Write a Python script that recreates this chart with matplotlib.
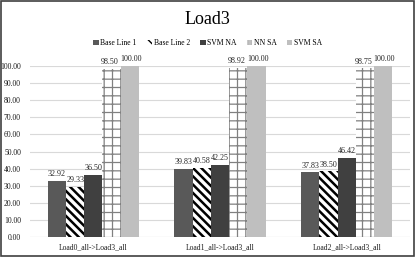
import matplotlib
matplotlib.use("Agg")
import matplotlib.pyplot as plt
import numpy as np
from matplotlib.patches import Rectangle, Patch

categories = ["Load0_all->Load3_all", "Load1_all->Load3_all", "Load2_all->Load3_all"]
series_names = ["Base Line 1", "Base Line 2", "SVM NA", "NN SA", "SVM SA"]
base_line_1 = [32.92, 39.83, 37.83]
base_line_2 = [29.33, 40.58, 38.50]
svm_na = [36.50, 42.25, 46.42]
nn_sa = [98.50, 98.92, 98.75]
svm_sa = [100.00, 100.00, 100.00]
yticks = [0, 10, 20, 30, 40, 50, 60, 70, 80, 90, 100]

plt.rcParams['font.family'] = ['Liberation Serif', 'DejaVu Serif']

fig = plt.figure(figsize=(4.15, 2.57), dpi=100)
ax = fig.add_axes([0.0723, 0.078, 0.916, 0.665])

series = [base_line_1, base_line_2, svm_na, nn_sa, svm_sa]
styles = [
    dict(facecolor="#595959", edgecolor="#595959", hatch=None, hlw=1.0),
    dict(facecolor="white", edgecolor="black", hatch="\\\\\\\\", hlw=1.8),
    dict(facecolor="#404040", edgecolor="#404040", hatch=None, hlw=1.0),
    dict(facecolor="white", edgecolor="#808080", hatch="++", hlw=0.9),
    dict(facecolor="#bfbfbf", edgecolor="#bfbfbf", hatch=None, hlw=1.0),
]
x = np.arange(len(categories))
w = 0.144
handles = []
for i, (vals, st) in enumerate(zip(series, styles)):
    with plt.rc_context({'hatch.linewidth': st['hlw']}):
        bars = ax.bar(x + (i - 2) * w, vals, width=w, facecolor=st['facecolor'],
                      edgecolor=st['edgecolor'], hatch=st['hatch'], linewidth=0,
                      label=series_names[i], zorder=3)
        if i == 3:
            bars = Patch(facecolor="white", edgecolor="#a0a0a0", hatch="||||||||", linewidth=0)
    handles.append(bars)
    for xi, v in zip(x + (i - 2) * w, vals):
        dy = 1.5 if i < 4 else 1.8
        xo = -0.012 if i == 3 else (0.008 if i == 4 else 0)
        ax.text(xi + xo, v + dy, f"{v:.2f}", ha="center", va="bottom", fontsize=5.8,
                color="#262626", zorder=4)

ax.set_xlim(-0.5, 2.5)
ax.set_ylim(0, 100)
ax.set_yticks(yticks)
ax.set_yticklabels([f"{t:.2f}" for t in yticks], fontsize=5.5, color="#1a1a1a")
ax.set_xticks(x)
ax.set_xticklabels(categories, fontsize=5.5, color="#1a1a1a")
ax.tick_params(axis="y", length=0, pad=6.5)
ax.tick_params(axis="x", length=0, pad=4.5)
ax.yaxis.grid(True, color="#d9d9d9", linewidth=0.8, zorder=0)
for s in ax.spines.values():
    s.set_visible(False)
ax.axhline(0, color="#d9d9d9", linewidth=0.8, zorder=2)

fig.text(0.5, 0.925, "Load3", ha="center", va="center", fontsize=13, color="black")
leg = fig.legend(handles=handles, labels=series_names, loc="center", bbox_to_anchor=(0.5, 0.832),
                 ncol=5, fontsize=5.5, frameon=False, handlelength=0.75, handleheight=0.7,
                 handletextpad=0.2, columnspacing=1.3)

fig.patches.append(Rectangle((0.002, 0.003), 0.995, 0.993, transform=fig.transFigure,
                             fill=False, edgecolor="#404040", linewidth=1.2))

fig.savefig("out.png", dpi=100)
